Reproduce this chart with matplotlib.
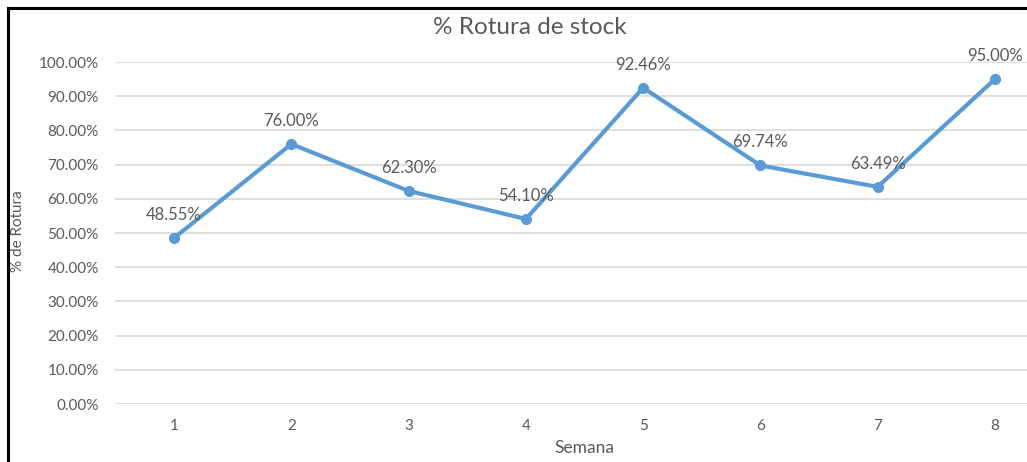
import matplotlib
matplotlib.use("Agg")
import matplotlib.pyplot as plt
from matplotlib.lines import Line2D
from matplotlib.ticker import FuncFormatter

semanas = [1, 2, 3, 4, 5, 6, 7, 8]
rotura = [48.55, 76.00, 62.30, 54.10, 92.46, 69.74, 63.49, 95.00]
yticks = [0, 10, 20, 30, 40, 50, 60, 70, 80, 90, 100]

plt.rcParams["font.family"] = ["Lato", "DejaVu Sans"]
GRAY = "#595959"
BLUE = "#5B9BD5"

fig = plt.figure(figsize=(10.27, 4.62), dpi=100)
ax = fig.add_axes([0.1124, 0.1255, 0.9135, 0.7403])

ax.plot(semanas, rotura, color=BLUE, lw=3, marker="o", ms=7, zorder=3,
        solid_capstyle="round")
for x, v in zip(semanas, rotura):
    ax.annotate(f"{v:.2f}%", (x, v), xytext=(0, 11), textcoords="offset points",
                ha="center", va="bottom", fontsize=12, color=GRAY)

ax.set_xlim(0.5, 8.5)
ax.set_ylim(0, 100)
ax.set_xticks(semanas)
ax.set_yticks(yticks)
ax.yaxis.set_major_formatter(FuncFormatter(lambda v, _: f"{v:.2f}%"))
ax.grid(axis="y", color="#D9D9D9", lw=1.2)
ax.set_axisbelow(True)
for s in ax.spines.values():
    s.set_visible(False)
ax.tick_params(length=0, labelsize=11, colors=GRAY)
ax.tick_params(axis="y", pad=12)
ax.tick_params(axis="x", pad=11)

ax.set_xlabel("Semana", fontsize=12.5, color=GRAY, labelpad=5)
fig.text(0.018, 0.5, "% de Rotura", rotation=90, ha="center", va="center",
         fontsize=11, color=GRAY)
fig.text(0.516, 0.94, "% Rotura de stock", ha="center", va="center",
         fontsize=17.5, color=GRAY)

# frame lines along the top and left edge
fig.add_artist(Line2D([0.008, 1.0], [0.983, 0.983], transform=fig.transFigure,
                      color="black", lw=2.2))
fig.add_artist(Line2D([0.008, 0.008], [0.0, 0.983], transform=fig.transFigure,
                      color="black", lw=2.2))

fig.savefig("out.png", dpi=100)
